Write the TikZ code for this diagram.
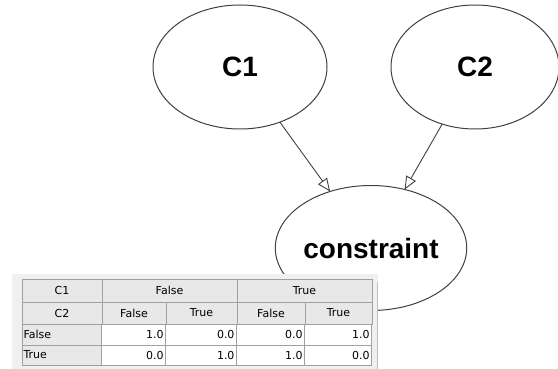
\documentclass[tikz,border=0pt]{standalone}
\usepackage{fontspec}
\setmainfont{Liberation Sans}
\newfontfamily\tablefont{DejaVu Sans}
\usetikzlibrary
  {
    arrows.meta,              % open triangle heads
    shapes.geometric,         % ellipse nodes
    positioning,              % place nodes relative to other nodes
  }

\definecolor{edgegray}{HTML}{404040}
\definecolor{panelgray}{HTML}{F0F0F0}
\definecolor{headgray}{HTML}{E8E8E8}
\definecolor{cellline}{HTML}{A0A0A0}

\begin{document}
\begin{tikzpicture}[x=1pt,y=-1pt,inner sep=0,outer sep=0,node distance=0,
    var/.style={draw=edgegray, line width=1pt, ellipse,
      font=\fontsize{28}{30}\selectfont\bfseries},
    dep/.style={draw=edgegray, line width=.9pt,
      -{Triangle[open,length=13pt,width=11pt,fill=white]}},
    head/.style={draw=cellline, fill=headgray,
      font=\tablefont\fontsize{11}{13}\selectfont},
    rowhead/.style={head, text width=77, align=left, inner xsep=1pt},
    cell/.style={draw=cellline, fill=white, text width=#1, align=right,
      inner xsep=2pt, font=\tablefont\fontsize{11}{13}\selectfont}]
    \useasboundingbox (0,0) rectangle (558,369);

    \node (c1) [var, minimum width=174, minimum height=124] at (240,67) {C1};
    \node (c2) [var, minimum width=168, minimum height=124] at (475,67) {C2};
    \node (con) [var, minimum width=173, minimum height=125] at (371,248) {constraint};
    \draw[dep] (c1) -- (con);
    \draw[dep] (c2) -- (con);

    % table panel
    \fill[panelgray] (12,274) rectangle (378,369);
    \draw[gray!50] (377,282) -- (377,369);

    \node (hc1) [head, anchor=north west, minimum width=80, minimum height=23] at (22,279) {C1};
    \node (hf) [head, minimum width=135, minimum height=23, right=of hc1] {False};
    \node (ht) [head, minimum width=135, minimum height=23, right=of hf] {True};

    \node (hc2) [head, minimum width=80, minimum height=22, below=of hc1] {C2};
    \node (hff) [head, anchor=north west, minimum width=64, minimum height=22] at (hc2.north east) {False};
    \node (hft) [head, minimum width=71, minimum height=22, right=of hff] {True};
    \node (htf) [head, minimum width=68, minimum height=22, right=of hft] {False};
    \node (htt) [head, minimum width=67, minimum height=22, right=of htf] {True};

    \node (rf) [rowhead, minimum height=21, below=of hc2] {False};
    \node (rt) [rowhead, minimum height=20, below=of rf] {True};

    \node (ff1) [cell=60, anchor=north west, minimum height=21] at (rf.north east) {1.0};
    \node (ff2) [cell=67, minimum height=21, right=of ff1] {0.0};
    \node (ff3) [cell=64, minimum height=21, right=of ff2] {0.0};
    \node (ff4) [cell=63, minimum height=21, right=of ff3] {1.0};
    \node (tt1) [cell=60, anchor=north west, minimum height=20] at (rt.north east) {0.0};
    \node (tt2) [cell=67, minimum height=20, right=of tt1] {1.0};
    \node (tt3) [cell=64, minimum height=20, right=of tt2] {1.0};
    \node (tt4) [cell=63, minimum height=20, right=of tt3] {0.0};
  \end{tikzpicture}
\end{document}
